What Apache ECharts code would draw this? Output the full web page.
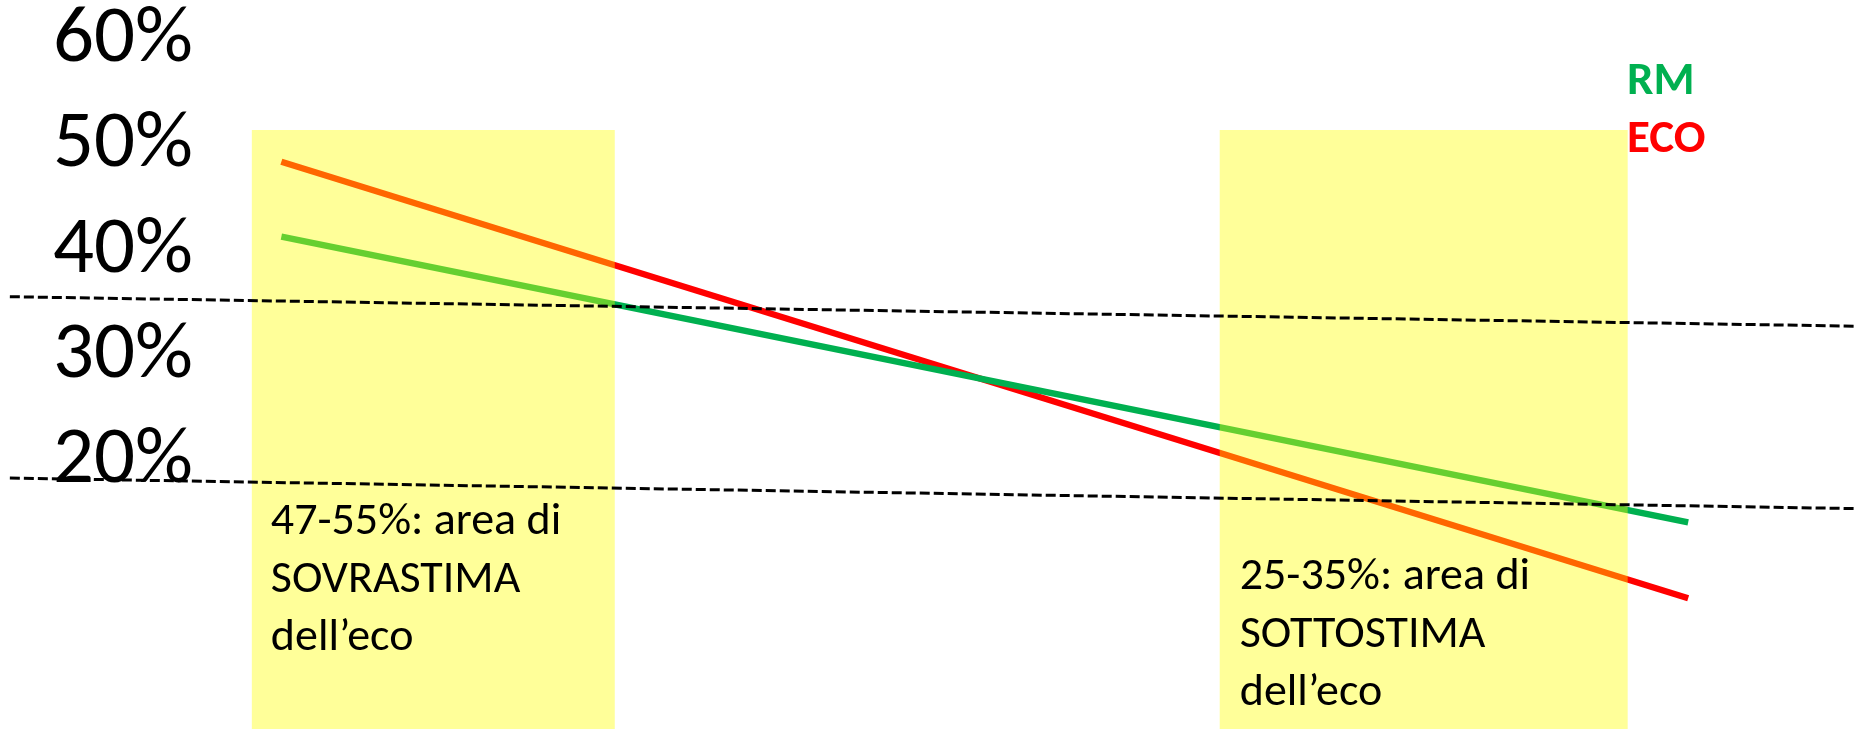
<!DOCTYPE html>
<html>
<head>
<meta charset="utf-8">
<script src="https://cdn.jsdelivr.net/npm/echarts@6/dist/echarts.min.js"></script>
<style>
  html, body { margin: 0; padding: 0; background: #ffffff; }
  #chart { width: 1857px; height: 729px; }
</style>
</head>
<body>
<div id="chart"></div>
<script>
// Position along the comparison (0 = left end, 100 = right end of the two lines)
const linePositions = [0, 100];
// Estimated percentages at the two ends of each method line
const ecoValues = [48.5, 7.1];
const rmValues = [41.4, 14.3];

// Dashed reference lines: [x, y] at their two ends
const refPositions = [-19.3, 112];
const refUpper = [35.7, 32.9];
const refLower = [18.5, 15.6];

// Highlighted ranges on the horizontal position scale
const zoneOver = [-2.1, 23.7];
const zoneUnder = [66.7, 95.7];
const zoneTop = 51.5;

// Y axis ticks shown as labels
const yTicks = [20, 30, 40, 50, 60];
const yMin = -5.3;
const yMax = 60;

const seriesNames = ['RM', 'ECO'];
const zoneTexts = [
  '47-55%: area di\nSOVRASTIMA\ndell\u2019eco',
  '25-35%: area di\nSOTTOSTIMA\ndell\u2019eco'
];

const GREEN = '#00B050';
const RED = '#FF0000';
const FONT = "Carlito, 'Open Sans', sans-serif";

const pairs = (xs, ys) => xs.map((x, i) => [x, ys[i]]);

const chart = echarts.init(document.getElementById('chart'), null, { renderer: 'canvas' });

const option = {
  animation: false,
  backgroundColor: '#ffffff',
  grid: { left: 0, right: 0, top: 39.5, bottom: 0, containLabel: false },
  xAxis: {
    type: 'value', min: -20, max: 112, show: false
  },
  yAxis: {
    type: 'value', min: yMin, max: yMax,
    offset: -200,
    axisLine: { show: false },
    axisTick: { show: false },
    splitLine: { show: false },
    axisLabel: {
      customValues: yTicks,
      margin: 7,
      padding: [6, 0, 0, 0],
      color: '#000000',
      fontFamily: FONT,
      fontSize: 81,
      formatter: v => v + '%'
    }
  },
  legend: {
    orient: 'vertical',
    left: 1617,
    top: 54,
    itemWidth: 0,
    itemHeight: 0,
    itemGap: 11,
    selectedMode: false,
    textStyle: { fontFamily: FONT, fontSize: 47, fontWeight: 'bold' },
    data: [
      { name: seriesNames[0], icon: 'rect', textStyle: { color: GREEN } },
      { name: seriesNames[1], icon: 'rect', textStyle: { color: RED } }
    ]
  },
  series: [
    {
      name: 'ECO', type: 'line', z: 2,
      data: pairs(linePositions, ecoValues),
      showSymbol: false, symbol: 'none', silent: true,
      lineStyle: { color: RED, width: 6.5, cap: 'butt' },
      itemStyle: { color: RED }
    },
    {
      name: 'RM', type: 'line', z: 2,
      data: pairs(linePositions, rmValues),
      showSymbol: false, symbol: 'none', silent: true,
      lineStyle: { color: GREEN, width: 6.5, cap: 'butt' },
      itemStyle: { color: GREEN }
    },
    {
      name: 'zones', type: 'line', data: [], silent: true,
      markArea: {
        z: 3,
        silent: true,
        itemStyle: { color: 'rgba(255,255,0,0.4)', borderWidth: 0 },
        label: { show: false },
        data: [
          [{ xAxis: zoneOver[0], yAxis: zoneTop }, { xAxis: zoneOver[1], yAxis: yMin }],
          [{ xAxis: zoneUnder[0], yAxis: zoneTop }, { xAxis: zoneUnder[1], yAxis: yMin }]
        ]
      }
    },
    {
      name: 'refUpper', type: 'line', z: 4, silent: true,
      data: pairs(refPositions, refUpper),
      symbol: 'none', clip: false,
      lineStyle: { color: '#000000', width: 3, type: [10, 4] }
    },
    {
      name: 'refLower', type: 'line', z: 4, silent: true,
      data: pairs(refPositions, refLower),
      symbol: 'none', clip: false,
      lineStyle: { color: '#000000', width: 3, type: [10, 4] }
    }
  ]
};

chart.setOption(option);

// Zone captions anchored to the left edge of each highlighted range
function placeCaptions() {
  const p1 = chart.convertToPixel({ gridIndex: 0 }, [zoneOver[0], 0]);
  const p2 = chart.convertToPixel({ gridIndex: 0 }, [zoneUnder[0], 0]);
  const textStyle = {
    fill: '#000000', fontFamily: FONT, fontSize: 46, lineHeight: 58,
    verticalAlign: 'top', align: 'left'
  };
  chart.setOption({
    graphic: [
      { type: 'text', z: 10, silent: true, x: p1[0] + 19, y: 493,
        style: Object.assign({ text: zoneTexts[0] }, textStyle) },
      { type: 'text', z: 10, silent: true, x: p2[0] + 20, y: 548,
        style: Object.assign({ text: zoneTexts[1] }, textStyle) }
    ]
  });
}
placeCaptions();
</script>
</body>
</html>
